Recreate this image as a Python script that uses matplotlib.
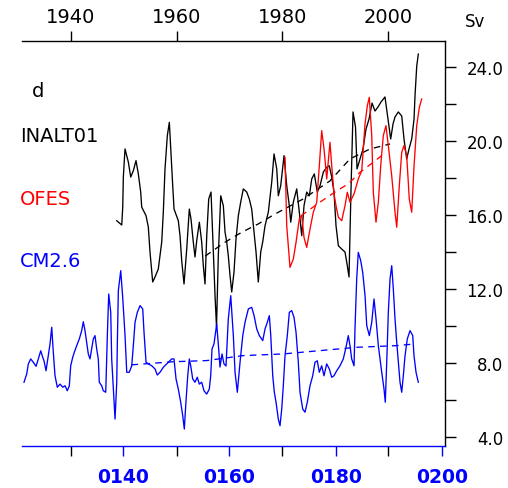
import matplotlib
matplotlib.use("Agg")
import matplotlib.pyplot as plt
from matplotlib.ticker import FixedLocator, FuncFormatter, FormatStrFormatter

# ---------------- data ----------------
# INALT01 (top axis, calendar years)
inalt_year = [1948.65, 1949.60, 1949.79, 1949.90, 1950.22, 1950.85, 1951.30, 1951.79, 1952.30, 1952.74,
              1953.19, 1953.38, 1954.20, 1954.63, 1954.95, 1955.46, 1955.90, 1956.52, 1956.85, 1957.17,
              1957.47, 1957.79, 1958.23, 1958.61, 1958.87, 1959.25, 1959.50, 1960.31, 1960.63, 1960.95,
              1961.39, 1961.90, 1962.39, 1962.71, 1963.15, 1963.47, 1963.79, 1964.29, 1964.74, 1965.04,
              1965.36, 1965.69, 1966.06, 1966.50, 1966.94, 1967.26, 1967.54, 1967.88, 1968.34, 1968.83,
              1969.15, 1969.47, 1969.77, 1970.10, 1970.42, 1970.85, 1971.23, 1971.67, 1972.12, 1972.61,
              1973.26, 1973.75, 1974.20, 1974.51, 1975.02, 1975.45, 1975.91, 1976.28, 1976.72, 1977.35,
              1977.99, 1978.43, 1978.94, 1979.24, 1979.69, 1980.32, 1980.83, 1981.32, 1981.59, 1982.08,
              1982.72, 1983.21, 1983.67, 1984.10, 1984.61, 1985.11, 1985.56, 1986.05, 1986.62, 1987.13,
              1987.76, 1988.40, 1988.89, 1989.35, 1989.78, 1990.16, 1990.60, 1991.24, 1991.86, 1992.30,
              1992.62, 1993.00, 1993.38, 1993.85, 1994.14, 1994.70, 1995.27, 1995.84, 1996.41, 1996.98,
              1997.54, 1998.11, 1998.68, 1999.43, 2000.00, 2000.51, 2000.95, 2001.33, 2001.95, 2002.60,
              2003.03, 2003.54, 2003.98, 2004.49, 2004.93, 2005.11, 2005.44, 2005.74]
inalt_sv = [15.69, 15.46, 16.43, 18.05, 19.57, 18.86, 18.05, 18.39, 18.94, 18.22,
            17.24, 16.43, 15.96, 15.35, 14.00, 12.38, 12.65, 13.08, 13.80, 14.54,
            16.16, 18.49, 20.29, 21.01, 19.57, 17.58, 16.32, 15.69, 14.88, 13.53,
            12.27, 14.16, 16.32, 15.78, 14.52, 13.73, 14.61, 15.61, 14.52, 13.26,
            12.27, 14.88, 16.86, 17.24, 14.00, 11.64, 9.95, 13.80, 17.04, 16.50,
            15.08, 14.54, 13.80, 12.72, 11.84, 12.92, 14.70, 15.96, 16.70, 17.41,
            17.24, 16.86, 16.32, 15.42, 14.00, 12.38, 14.00, 14.54, 15.41, 16.16,
            17.78, 19.30, 18.49, 17.04, 17.58, 19.21, 17.58, 16.50, 15.61, 16.70,
            17.41, 16.16, 14.88, 16.50, 17.24, 17.04, 17.95, 18.22, 17.24, 17.58,
            18.32, 18.58, 18.66, 18.05, 17.24, 15.42, 14.34, 14.16, 14.00, 13.26,
            12.65, 17.40, 21.57, 20.76, 18.49, 19.03, 19.57, 20.65, 21.19, 22.05,
            21.62, 21.84, 22.11, 22.38, 21.19, 20.11, 20.92, 21.30, 21.57, 21.35,
            20.11, 19.03, 19.57, 20.11, 21.19, 22.43, 24.05, 24.70]
inalt_trend_year = [1965.4, 1969.2, 1972.4, 1975.4, 1978.6, 1983.9, 1989.0, 1992.8, 1996.6, 2000.4]
inalt_trend_sv = [13.78, 14.54, 15.08, 15.51, 16.05, 16.86, 17.84, 19.03, 19.57, 19.84]

# OFES (top axis, calendar years)
ofes_year = [1980.51, 1980.83, 1981.45, 1982.08, 1982.59, 1983.21, 1983.67, 1984.10, 1984.61, 1985.24,
             1985.86, 1986.51, 1987.00, 1987.45, 1987.89, 1988.40, 1989.02, 1989.35, 1989.78, 1990.16,
             1990.60, 1991.24, 1991.86, 1992.30, 1992.81, 1993.57, 1994.38, 1995.03, 1995.65, 1996.09,
             1996.46, 1996.92, 1997.22, 1997.73, 1998.17, 1998.62, 1999.11, 1999.62, 2000.06, 2000.70,
             2001.33, 2001.65, 2002.14, 2002.60, 2003.03, 2003.54, 2004.03, 2004.49, 2004.93, 2005.44,
             2005.93, 2006.38]
ofes_sv = [19.12, 15.42, 13.17, 13.62, 14.52, 15.78, 15.96, 14.79, 14.25, 15.24,
           16.15, 16.69, 18.66, 20.56, 19.57, 17.95, 19.93, 18.66, 17.14, 16.50,
           15.88, 15.69, 16.50, 17.23, 16.69, 17.14, 17.95, 18.39, 20.92, 21.91,
           22.36, 20.29, 17.23, 15.61, 16.69, 18.66, 20.29, 20.83, 19.75, 18.12,
           16.15, 15.34, 17.58, 19.39, 19.75, 19.21, 16.86, 16.15, 18.66, 20.83,
           21.82, 22.27]
ofes_trend_year = [1983.5, 1987.1, 1990.3, 1992.5, 1994.7, 1997.2, 1998.8]
ofes_trend_sv = [15.95, 16.69, 17.31, 17.68, 18.31, 18.85, 19.21]

# CM2.6 (bottom axis, model years)
cm_year = [121.38, 121.89, 122.19, 122.64, 123.13, 123.64, 124.07, 124.52, 124.90, 125.14,
           125.52, 125.95, 126.27, 126.59, 126.89, 127.21, 127.64, 128.15, 128.66, 129.09,
           129.52, 129.90, 130.16, 130.54, 130.84, 131.29, 131.78, 132.23, 132.53, 132.85,
           133.17, 133.47, 133.79, 134.11, 134.41, 134.73, 135.05, 135.35, 135.54, 135.99,
           136.29, 136.75, 137.05, 137.31, 137.69, 137.87, 138.18, 138.50, 138.82, 138.93,
           139.12, 139.57, 139.94, 140.38, 140.70, 141.18, 141.64, 141.94, 142.26, 142.69,
           143.20, 143.71, 143.95, 144.33, 144.76, 145.40, 146.02, 146.45, 146.96, 147.58,
           148.22, 149.16, 149.59, 149.97, 150.40, 150.85, 151.23, 151.53, 151.79, 152.17,
           152.47, 152.73, 153.11, 153.54, 153.97, 154.35, 154.80, 155.23, 155.74, 156.23,
           156.49, 156.74, 157.11, 157.62, 157.92, 158.24, 158.62, 158.99, 159.37, 159.80,
           160.26, 160.75, 161.07, 161.50, 162.01, 162.52, 162.95, 163.57, 164.21, 164.65,
           165.15, 165.64, 166.28, 166.71, 167.14, 167.52, 167.79, 168.16, 168.46, 168.78,
           169.21, 169.53, 169.85, 170.15, 170.47, 170.90, 171.28, 171.73, 172.16, 172.54,
           172.97, 173.29, 173.80, 174.23, 174.66, 175.17, 175.68, 176.11, 176.54, 176.92,
           177.37, 177.80, 178.31, 178.80, 179.25, 179.68, 180.19, 180.81, 181.43, 181.94,
           182.37, 182.69, 183.01, 183.45, 183.63, 183.95, 184.25, 184.71, 185.08, 185.52,
           185.84, 186.33, 186.78, 187.21, 187.59, 188.02, 188.66, 189.09, 189.33, 189.60,
           189.90, 190.22, 190.54, 190.84, 191.16, 191.48, 191.78, 192.10, 192.42, 192.72,
           193.04, 193.47, 193.98, 194.49, 194.73, 195.11, 195.54]
cm_sv = [6.96, 7.41, 7.95, 8.22, 8.04, 7.82, 8.22, 8.66, 8.31, 8.12,
         7.58, 8.39, 9.03, 9.93, 8.58, 7.31, 6.69, 6.86, 6.69, 6.77,
         6.50, 6.77, 7.85, 8.31, 8.58, 8.94, 9.30, 9.75, 10.23, 9.75,
         9.12, 8.49, 8.22, 8.76, 9.30, 9.48, 8.76, 8.22, 6.96, 6.77,
         6.50, 6.42, 9.48, 11.73, 10.74, 8.22, 6.59, 4.97, 6.96, 9.03,
         11.91, 12.99, 11.55, 9.48, 7.50, 7.50, 7.85, 8.94, 10.20, 10.74,
         11.10, 10.92, 9.66, 8.04, 7.95, 7.85, 7.68, 7.35, 7.50, 7.77,
         7.95, 8.22, 8.22, 7.14, 6.59, 5.88, 5.15, 4.43, 5.69, 7.31,
         8.22, 7.85, 7.14, 6.96, 7.23, 6.86, 6.96, 6.50, 6.32, 6.59,
         7.31, 8.76, 9.03, 10.11, 9.03, 7.78, 8.49, 7.95, 7.84, 10.38,
         11.64, 9.48, 7.50, 6.42, 8.04, 9.48, 10.20, 10.92, 11.01, 10.56,
         9.84, 9.48, 9.21, 9.84, 10.20, 10.56, 9.48, 7.31, 6.42, 5.88,
         4.97, 4.61, 5.51, 6.77, 8.39, 9.48, 10.74, 10.83, 10.47, 9.66,
         8.04, 6.42, 5.51, 5.34, 5.88, 6.77, 7.31, 8.04, 8.12, 7.50,
         7.85, 7.31, 7.95, 7.68, 7.23, 7.31, 7.58, 7.85, 8.22, 8.85,
         9.48, 8.94, 8.22, 7.85, 9.84, 12.54, 13.98, 13.53, 12.90, 11.64,
         10.02, 9.48, 10.20, 11.46, 10.38, 8.94, 7.50, 6.59, 5.88, 8.04,
         10.74, 12.54, 13.26, 12.00, 10.38, 9.12, 8.04, 6.96, 6.42, 7.31,
         8.39, 9.30, 9.75, 9.48, 8.39, 7.50, 6.96]
cm_trend_year = [141.6, 149.5, 155.7, 162.6, 170.1, 177.1, 184.0, 191.5, 194.9]
cm_trend_sv = [7.90, 8.07, 8.13, 8.40, 8.49, 8.67, 8.85, 8.94, 9.03]

top_ticks = [1940, 1960, 1980, 2000]
bottom_ticks = [140, 160, 180, 200]
y_major = [4, 8, 12, 16, 20, 24]
y_minor = [6, 10, 14, 18, 22]

# ---------------- figure ----------------
W, H = 508, 489
fig = plt.figure(figsize=(W / 100, H / 100), dpi=100)
ax = fig.add_axes([22 / W, 1 - 447 / H, (445 - 22) / W, (447 - 42) / H])
ax2 = ax.twiny()

ax.set_xlim(1930.72, 2010.79)
ax2.set_xlim(121.0, 200.56)
ax.set_ylim(3.514, 25.405)

ax.plot(inalt_year, inalt_sv, color='black', lw=0.95)
ax.plot(inalt_trend_year, inalt_trend_sv, color='black', lw=0.95, dashes=(5, 4))
ax.plot(ofes_year, ofes_sv, color='red', lw=0.95)
ax.plot(ofes_trend_year, ofes_trend_sv, color='red', lw=0.95, dashes=(5, 4))
ax2.plot(cm_year, cm_sv, color='blue', lw=0.95)
ax2.plot(cm_trend_year, cm_trend_sv, color='blue', lw=0.95, dashes=(5, 4))

# spines
for s in ax2.spines.values():
    s.set_visible(False)
ax.spines['left'].set_visible(False)
ax.spines['top'].set_color('black')
ax.spines['right'].set_color('black')
ax.spines['bottom'].set_color('blue')
for s in ax.spines.values():
    s.set_linewidth(1.0)

# top (calendar years) axis
ax.xaxis.set_major_locator(FixedLocator(top_ticks))
ax.xaxis.set_major_formatter(FuncFormatter(lambda v, p: f"{int(round(v))}"))
ax.tick_params(axis='x', which='major', direction='out', length=7.2, width=1.0,
               top=True, bottom=True, labeltop=True, labelbottom=False,
               labelsize=14, pad=3.5, colors='black')

# bottom (model years) axis
ax2.xaxis.set_ticks_position('bottom')
ax2.xaxis.set_label_position('bottom')
ax2.xaxis.set_major_locator(FixedLocator(bottom_ticks))
ax2.xaxis.set_major_formatter(FuncFormatter(lambda v, p: f"{int(round(v)):04d}"))
ax2.tick_params(axis='x', which='major', direction='out', length=7.2, width=1.0,
                top=False, bottom=True, labeltop=False, labelbottom=True,
                labelsize=13.5, pad=8, colors='blue')
for lab in ax2.get_xticklabels():
    lab.set_fontweight('bold')

# right y axis
ax.yaxis.tick_right()
ax.yaxis.set_major_locator(FixedLocator(y_major))
ax.yaxis.set_minor_locator(FixedLocator(y_minor))
ax.yaxis.set_major_formatter(FormatStrFormatter('%.1f'))
ax.tick_params(axis='y', which='both', direction='out', length=8, width=1.0,
               left=False, right=True, labelleft=False, labelright=True,
               labelsize=12, pad=34)
for lab in ax.get_yticklabels():
    lab.set_ha('right')

def px(x, y):
    return x / W, 1 - y / H

fig.text(*px(465, 27), 'Sv', fontsize=12, ha='left', va='baseline')
fig.text(*px(32, 97), 'd', fontsize=14, ha='left', va='baseline')
fig.text(*px(20, 141.7), 'INALT01', fontsize=14, ha='left', va='baseline', color='black')
fig.text(*px(20, 205), 'OFES', fontsize=14, ha='left', va='baseline', color='red')
fig.text(*px(20, 266.7), 'CM2.6', fontsize=14, ha='left', va='baseline', color='blue')

fig.savefig('out.png', dpi=100)
